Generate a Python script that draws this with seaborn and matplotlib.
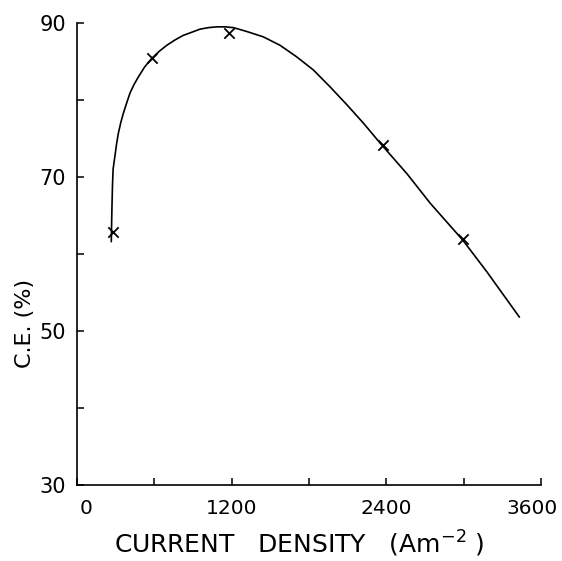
import matplotlib
matplotlib.use("Agg")
import matplotlib.pyplot as plt
import matplotlib.transforms as mtransforms
import seaborn as sns
import pandas as pd

# measured points (crosses)
point_density = [280, 580, 1175, 2375, 2990]
point_ce = [62.8, 85.4, 88.7, 74.2, 62.0]

# hand-drawn fitted curve
curve_density = [266, 268, 271, 275, 280, 288, 295, 307, 321, 340, 360, 385,
                 411, 442, 476, 525, 580, 636, 696, 760, 825, 890, 954, 1020,
                 1084, 1150, 1213, 1316, 1445, 1575, 1704, 1833, 1963, 2092,
                 2221, 2351, 2560, 2739, 2992, 3178, 3431]
curve_ce = [61.6, 63.5, 66.0, 68.8, 71.0, 72.0, 72.8, 74.3, 75.7, 77.1, 78.3,
            79.6, 80.9, 82.0, 83.0, 84.3, 85.4, 86.3, 87.1, 87.8, 88.4, 88.8,
            89.2, 89.4, 89.5, 89.5, 89.4, 88.9, 88.2, 87.1, 85.6, 83.9, 81.7,
            79.4, 77.0, 74.4, 70.4, 66.6, 61.8, 57.7, 51.8]

x_ticks = [0, 1200, 2400, 3600]
x_minor = [600, 1800, 3000]
y_ticks = [30, 50, 70, 90]
y_minor = [40, 60, 80]

sns.set_theme(style="white")
plt.rcParams['font.family'] = ['DejaVu Sans']
plt.rcParams['xtick.direction'] = 'in'
plt.rcParams['ytick.direction'] = 'in'
plt.rcParams['xtick.bottom'] = True
plt.rcParams['ytick.left'] = True

fig = plt.figure(figsize=(5.62, 5.61), dpi=100)
ax = fig.add_axes([0.137, 0.1355, 0.826, 0.8235])

curve = pd.DataFrame({"x": curve_density, "y": curve_ce})
pts = pd.DataFrame({"x": point_density, "y": point_ce})

sns.lineplot(data=curve, x="x", y="y", sort=False, estimator=None,
             color="black", linewidth=1.2, ax=ax)
sns.scatterplot(data=pts, x="x", y="y", marker="x", s=55, color="black",
                linewidth=1.3, ax=ax, zorder=3)

ax.set_xlim(0, 3600)
ax.set_ylim(30, 90)
ax.set_xticks(x_ticks)
ax.set_xticks(x_minor, minor=True)
ax.set_yticks(y_ticks)
ax.set_yticks(y_minor, minor=True)
ax.set_xticklabels([str(v) for v in x_ticks])
ax.set_yticklabels([str(v) for v in y_ticks])

for side in ["top", "right"]:
    ax.spines[side].set_visible(False)
for side in ["left", "bottom"]:
    ax.spines[side].set_color("black")
    ax.spines[side].set_linewidth(1.2)

ax.tick_params(axis="x", which="both", direction="in", length=5, width=1.1,
               color="black", bottom=True, top=False)
ax.tick_params(axis="y", which="both", direction="in", length=5, width=1.1,
               color="black", left=True, right=False)
ax.tick_params(axis="x", which="major", pad=10, labelsize=14.5, labelcolor="black")
ax.tick_params(axis="y", which="major", pad=8, labelsize=15, labelcolor="black")

# nudge first / last x tick labels as in the reference
xl = ax.get_xticklabels()
xl[0].set_transform(xl[0].get_transform() +
                    mtransforms.ScaledTranslation(9 / 100, 0, fig.dpi_scale_trans))
xl[-1].set_transform(xl[-1].get_transform() +
                     mtransforms.ScaledTranslation(-9 / 100, 0, fig.dpi_scale_trans))

ax.set_xlabel("CURRENT   DENSITY   (Am$^{-2}$ )", fontsize=18, color="black")
ax.xaxis.set_label_coords(0.478, -0.095)
ax.set_ylabel("C.E. (%)", fontsize=16, color="black")
ax.yaxis.set_label_coords(-0.09, 0.35)

fig.savefig("out.png", dpi=100, facecolor="white")
